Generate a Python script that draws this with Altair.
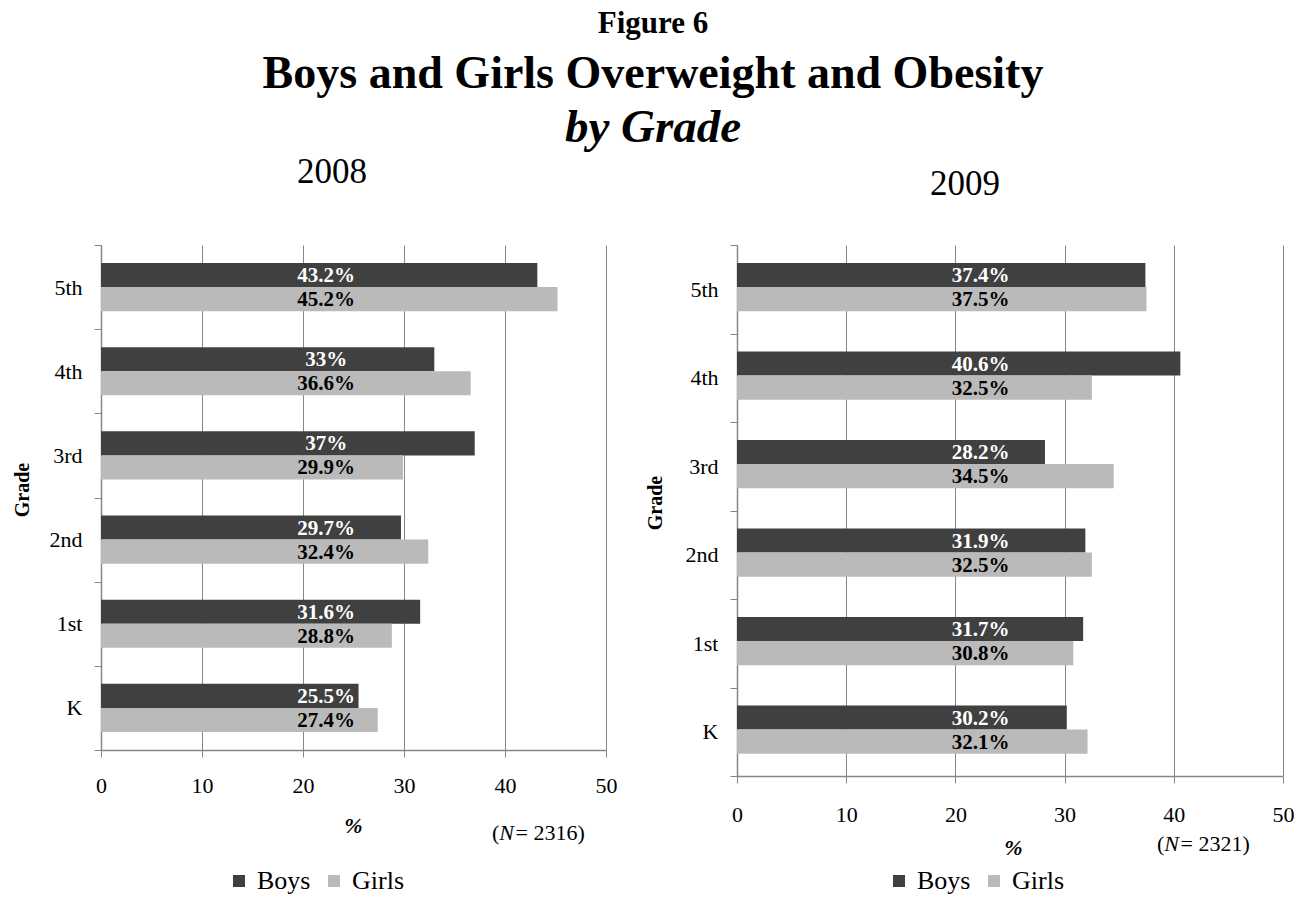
import altair as alt
import pandas as pd

# ---- data -------------------------------------------------------------
grades = ["5th", "4th", "3rd", "2nd", "1st", "K"]
sexes = ["Boys", "Girls"]
boys_2008 = [43.2, 33, 37, 29.7, 31.6, 25.5]
girls_2008 = [45.2, 36.6, 29.9, 32.4, 28.8, 27.4]
boys_2009 = [37.4, 40.6, 28.2, 31.9, 31.7, 30.2]
girls_2009 = [37.5, 32.5, 34.5, 32.5, 30.8, 32.1]
years = ["2008", "2009"]
sample_sizes = [2316, 2321]
x_ticks = [0, 10, 20, 30, 40, 50]
title_lines = ["Figure 6", "Boys and Girls Overweight and Obesity", "by Grade"]
label_x = 22.3  # all value labels sit on one vertical line

SERIF = "Liberation Serif"
BOYS_COLOR = "#404040"
GIRLS_COLOR = "#bababa"
AXIS_GRAY = "#868686"


def one_row(text):
    return alt.Chart(pd.DataFrame({"t": [text]}))


def text_mark(text, x, y, size, weight="normal", style="normal", align="center",
              baseline="alphabetic"):
    return one_row(text).mark_text(
        font=SERIF, fontSize=size, fontWeight=weight, fontStyle=style,
        align=align, baseline=baseline, color="black",
    ).encode(x=alt.value(x), y=alt.value(y), text="t:N")


def panel(year, boys, girls, n, width, height, lay):
    df = pd.DataFrame({
        "grade": grades * 2,
        "sex": ["Boys"] * len(grades) + ["Girls"] * len(grades),
        "value": boys + girls,
    })
    x_axis = alt.Axis(
        values=x_ticks, grid=True, gridColor=AXIS_GRAY, gridWidth=1,
        domainColor=AXIS_GRAY, domainWidth=1.5, tickColor=AXIS_GRAY, tickSize=7,
        labelFont=SERIF, labelFontSize=22, labelColor="black",
        labelPadding=lay["xlabpad"], labelFlush=False,
        title="%", titleFont=SERIF, titleFontSize=22, titleFontWeight="bold",
        titleFontStyle="italic", titleColor="black",
        titleX=lay["xtitle_x"], titleY=lay["xtitle_y"],
        titleBaseline="middle", titleAlign="center",
    )
    y_axis = alt.Axis(
        tickBand="extent", grid=False,
        domainColor=AXIS_GRAY, domainWidth=1.5, tickColor=AXIS_GRAY, tickSize=7,
        labelFont=SERIF, labelFontSize=22, labelColor="black", labelPadding=12,
        title="Grade", titleFont=SERIF, titleFontSize=20, titleFontWeight="bold",
        titleColor="black", titleAngle=270,
        titleX=lay["ytitle_x"], titleY=height / 2 - 8,
        titleBaseline="middle", titleAlign="center",
    )
    x_enc = dict(scale=alt.Scale(domain=[0, 50], nice=False), axis=x_axis)
    y_enc = alt.Y("grade:N", sort=grades,
                  scale=alt.Scale(paddingInner=0, paddingOuter=0), axis=y_axis)
    off_enc = alt.YOffset("sex:N", sort=sexes, scale=alt.Scale(paddingOuter=0.75))

    base = alt.Chart(df)
    bars = base.mark_bar().encode(
        x=alt.X("value:Q", **x_enc),
        y=y_enc,
        yOffset=off_enc,
        color=alt.Color(
            "sex:N",
            scale=alt.Scale(domain=sexes, range=[BOYS_COLOR, GIRLS_COLOR]),
            legend=alt.Legend(
                orient="none", legendX=lay["legx"], legendY=lay["legy"],
                direction="horizontal", title=None, symbolType="square",
                symbolSize=144, symbolStrokeWidth=0, labelFont=SERIF,
                labelFontSize=26, labelColor="black", labelOffset=5,
                columnPadding=10, padding=0,
            ),
        ),
    )
    labels = base.transform_calculate(
        label="datum.value + '%'", pos=str(label_x)
    ).mark_text(
        font=SERIF, fontSize=21, fontWeight="bold", align="center",
        baseline="middle", dy=1,
    ).encode(
        x=alt.X("pos:Q", **x_enc),
        y=y_enc,
        yOffset=off_enc,
        text="label:N",
        color=alt.condition(alt.datum.sex == "Boys", alt.value("white"),
                            alt.value("black")),
    )

    nx, ny = lay["n_x"], lay["n_y"]
    n_note = [
        text_mark("(", nx, ny, 22, align="left"),
        text_mark("N", nx + 7.3, ny, 22, style="italic", align="left"),
        text_mark(f"= {n})", nx + 23.5, ny, 22, align="left"),
    ]
    year_title = text_mark(year, lay["year_x"], lay["year_y"], 35)

    layers = [bars, labels, year_title] + n_note + lay.get("extra", [])
    return alt.layer(*layers).properties(width=width, height=height)


# Page title and a transparent frame that fixes the canvas extent,
# both positioned relative to the left plot area (origin at 101, 245).
left_extra = [
    one_row("").mark_rect(opacity=0).encode(
        x=alt.value(-101), x2=alt.value(1210), y=alt.value(-245), y2=alt.value(652)
    ),
    text_mark(title_lines[0], 552, -212, 31, weight="bold"),
    text_mark(title_lines[1], 552, -157, 46, weight="bold"),
    text_mark(title_lines[2], 552, -103, 47, weight="bold", style="italic"),
]

left = panel(
    years[0], boys_2008, girls_2008, sample_sizes[0], 505, 505,
    dict(xlabpad=18, xtitle_x=252, xtitle_y=75, ytitle_x=-79,
         legx=125, legy=623, n_x=391, n_y=595,
         year_x=231, year_y=-62, extra=left_extra),
)
right = panel(
    years[1], boys_2009, girls_2009, sample_sizes[1], 546, 531,
    dict(xlabpad=21, xtitle_x=276, xtitle_y=71, ytitle_x=-82,
         legx=149, legy=623, n_x=420, n_y=606,
         year_x=228, year_y=-50),
)

chart = (
    alt.hconcat(left, right, spacing=131, bounds="flush")
    .resolve_legend(color="independent")
    .properties(padding=0, background="white")
    .configure_view(strokeWidth=0)
)

chart.save("out.html", embed_options={"renderer": "svg", "actions": False})
